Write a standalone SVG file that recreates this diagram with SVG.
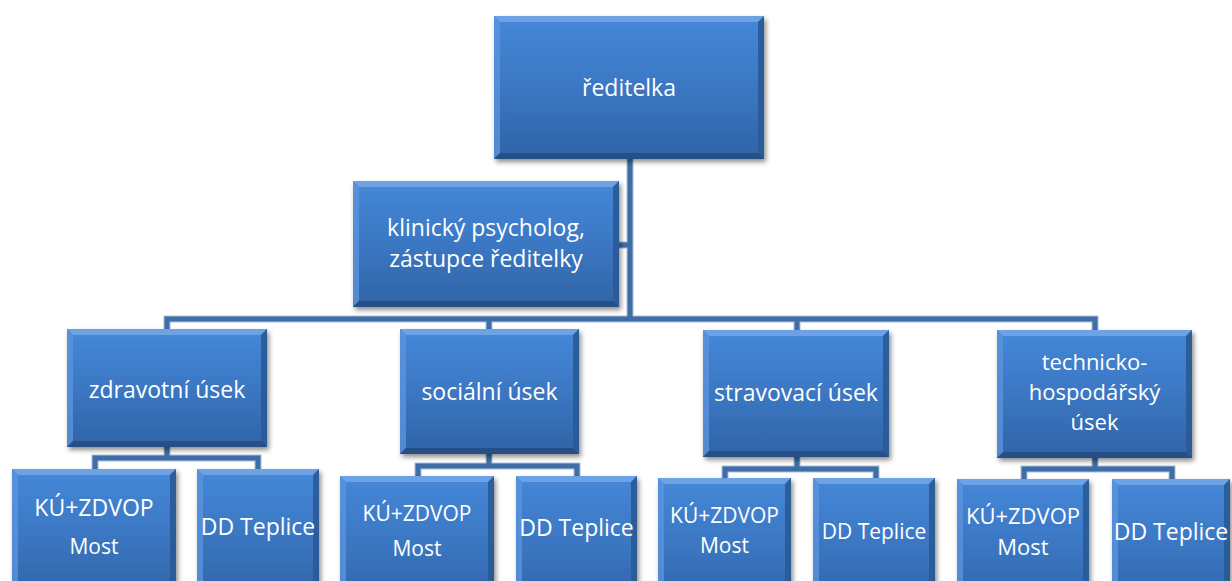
<svg xmlns="http://www.w3.org/2000/svg" width="1232" height="581" viewBox="0 0 1232 581">
<defs>
<linearGradient id="face" x1="0" y1="0" x2="0" y2="1">
<stop offset="0" stop-color="#4588d8"/>
<stop offset="0.5" stop-color="#3b77c3"/>
<stop offset="1" stop-color="#3064a6"/>
</linearGradient>
<filter id="sh" x="-10%" y="-10%" width="125%" height="130%">
<feDropShadow dx="2" dy="3" stdDeviation="2.5" flood-color="#000" flood-opacity="0.45"/>
</filter>
</defs>
<style>
.face{fill:url(#face)}
.bt{fill:#74a8e8;opacity:0.85}
.bl{fill:#5b94dc;opacity:0.8}
.br{fill:#2a5a96;opacity:0.9}
.bb{fill:#234d82;opacity:0.9}
.t{font-family:"Open Sans","Noto Sans",sans-serif;fill:#fff;text-anchor:middle;font-size:23px}
.s{font-size:21px}
.m{font-size:22px}
.c{fill:none;stroke:#3f6ea6;stroke-width:5}
.co{fill:none;stroke:#a9c0dc;stroke-width:7}
</style>
<rect width="1232" height="581" fill="#fff"/>
<g id="connectors">
<g class="co">
<path d="M630,159 V319"/><path d="M619,245 H630"/>
<path d="M167,329 V319 H1095 V330"/><path d="M489,319 V329"/><path d="M797,319 V330"/>
<path d="M167,447 V458"/><path d="M95,469 V458 H258 V469"/>
<path d="M489,454 V466"/><path d="M418,476 V466 H577 V476"/>
<path d="M797,457 V469"/><path d="M725,478 V469 H876 V478"/>
<path d="M1095,458 V469"/><path d="M1024,479 V469 H1172 V479"/>
</g>
<g class="c">
<path d="M630,159 V319"/><path d="M619,245 H630"/>
<path d="M167,329 V319 H1095 V330"/><path d="M489,319 V329"/><path d="M797,319 V330"/>
<path d="M167,447 V458"/><path d="M95,469 V458 H258 V469"/>
<path d="M489,454 V466"/><path d="M418,476 V466 H577 V476"/>
<path d="M797,457 V469"/><path d="M725,478 V469 H876 V478"/>
<path d="M1095,458 V469"/><path d="M1024,479 V469 H1172 V479"/>
</g>
</g>
<g id="reditelka">
<rect class="face" x="494" y="16" width="270" height="143" filter="url(#sh)"/>
<path class="bt" d="M494,16 h270 l-6,6 H500 z"/><path class="bl" d="M494,16 l6,6 V153 l-6,6 z"/><path class="br" d="M764,16 V159 l-6,-6 V22 z"/><path class="bb" d="M494,159 h270 l-6,-6 H500 z"/>
<text class="t" x="629" y="96">ředitelka</text>
</g>
<g id="psycholog">
<rect class="face" x="353" y="181" width="266" height="126" filter="url(#sh)"/>
<path class="bt" d="M353,181 h266 l-6,6 H359 z"/><path class="bl" d="M353,181 l6,6 V301 l-6,6 z"/><path class="br" d="M619,181 V307 l-6,-6 V187 z"/><path class="bb" d="M353,307 h266 l-6,-6 H359 z"/>
<text class="t" x="486" y="236">klinický psycholog,</text>
<text class="t" x="486" y="267">zástupce ředitelky</text>
</g>
<g id="zdravotni">
<rect class="face" x="67" y="329" width="200" height="118" filter="url(#sh)"/>
<path class="bt" d="M67,329 h200 l-6,6 H73 z"/><path class="bl" d="M67,329 l6,6 V441 l-6,6 z"/><path class="br" d="M267,329 V447 l-6,-6 V335 z"/><path class="bb" d="M67,447 h200 l-6,-6 H73 z"/>
<text class="t" x="167" y="398">zdravotní úsek</text>
</g>
<g id="socialni">
<rect class="face" x="400" y="329" width="179" height="125" filter="url(#sh)"/>
<path class="bt" d="M400,329 h179 l-6,6 H406 z"/><path class="bl" d="M400,329 l6,6 V448 l-6,6 z"/><path class="br" d="M579,329 V454 l-6,-6 V335 z"/><path class="bb" d="M400,454 h179 l-6,-6 H406 z"/>
<text class="t" x="489.5" y="400">sociální úsek</text>
</g>
<g id="stravovaci">
<rect class="face" x="703" y="330" width="186" height="127" filter="url(#sh)"/>
<path class="bt" d="M703,330 h186 l-6,6 H709 z"/><path class="bl" d="M703,330 l6,6 V451 l-6,6 z"/><path class="br" d="M889,330 V457 l-6,-6 V336 z"/><path class="bb" d="M703,457 h186 l-6,-6 H709 z"/>
<text class="t" x="796" y="401">stravovací úsek</text>
</g>
<g id="technicko">
<rect class="face" x="997" y="330" width="195" height="128" filter="url(#sh)"/>
<path class="bt" d="M997,330 h195 l-6,6 H1003 z"/><path class="bl" d="M997,330 l6,6 V452 l-6,6 z"/><path class="br" d="M1192,330 V458 l-6,-6 V336 z"/><path class="bb" d="M997,458 h195 l-6,-6 H1003 z"/>
<text class="t m" x="1094.5" y="370">technicko-</text>
<text class="t m" x="1094.5" y="400">hospodářský</text>
<text class="t m" x="1094.5" y="430">úsek</text>
</g>
<g id="z-ku">
<rect class="face" x="12" y="469" width="164" height="130" filter="url(#sh)"/>
<path class="bt" d="M12,469 h164 l-6,6 H18 z"/><path class="bl" d="M12,469 l6,6 V599 h-6 z"/><path class="br" d="M176,469 V599 h-6 V475 z"/>
<text class="t" x="94" y="516">KÚ+ZDVOP</text>
<text class="t s" x="94" y="554">Most</text>
</g>
<g id="z-dd">
<rect class="face" x="197" y="469" width="122" height="130" filter="url(#sh)"/>
<path class="bt" d="M197,469 h122 l-6,6 H203 z"/><path class="bl" d="M197,469 l6,6 V599 h-6 z"/><path class="br" d="M319,469 V599 h-6 V475 z"/>
<text class="t" x="258" y="535">DD Teplice</text>
</g>
<g id="s-ku">
<rect class="face" x="340" y="476" width="154" height="130" filter="url(#sh)"/>
<path class="bt" d="M340,476 h154 l-6,6 H346 z"/><path class="bl" d="M340,476 l6,6 V606 h-6 z"/><path class="br" d="M494,476 V606 h-6 V482 z"/>
<text class="t s" x="417" y="521">KÚ+ZDVOP</text>
<text class="t s" x="417" y="556">Most</text>
</g>
<g id="s-dd">
<rect class="face" x="516" y="476" width="121" height="130" filter="url(#sh)"/>
<path class="bt" d="M516,476 h121 l-6,6 H522 z"/><path class="bl" d="M516,476 l6,6 V606 h-6 z"/><path class="br" d="M637,476 V606 h-6 V482 z"/>
<text class="t" x="576.5" y="536">DD Teplice</text>
</g>
<g id="st-ku">
<rect class="face" x="658" y="478" width="133" height="130" filter="url(#sh)"/>
<path class="bt" d="M658,478 h133 l-6,6 H664 z"/><path class="bl" d="M658,478 l6,6 V608 h-6 z"/><path class="br" d="M791,478 V608 h-6 V484 z"/>
<text class="t s" x="724.5" y="523">KÚ+ZDVOP</text>
<text class="t s" x="724.5" y="553">Most</text>
</g>
<g id="st-dd">
<rect class="face" x="813" y="478" width="122" height="130" filter="url(#sh)"/>
<path class="bt" d="M813,478 h122 l-6,6 H819 z"/><path class="bl" d="M813,478 l6,6 V608 h-6 z"/><path class="br" d="M935,478 V608 h-6 V484 z"/>
<text class="t s" x="874" y="539">DD Teplice</text>
</g>
<g id="t-ku">
<rect class="face" x="957" y="479" width="132" height="130" filter="url(#sh)"/>
<path class="bt" d="M957,479 h132 l-6,6 H963 z"/><path class="bl" d="M957,479 l6,6 V609 h-6 z"/><path class="br" d="M1089,479 V609 h-6 V485 z"/>
<text class="t m" x="1023" y="524">KÚ+ZDVOP</text>
<text class="t m" x="1023" y="555">Most</text>
</g>
<g id="t-dd">
<rect class="face" x="1112" y="479" width="118" height="130" filter="url(#sh)"/>
<path class="bt" d="M1112,479 h118 l-6,6 H1118 z"/><path class="bl" d="M1112,479 l6,6 V609 h-6 z"/><path class="br" d="M1230,479 V609 h-6 V485 z"/>
<text class="t" x="1171" y="540">DD Teplice</text>
</g>
</svg>
